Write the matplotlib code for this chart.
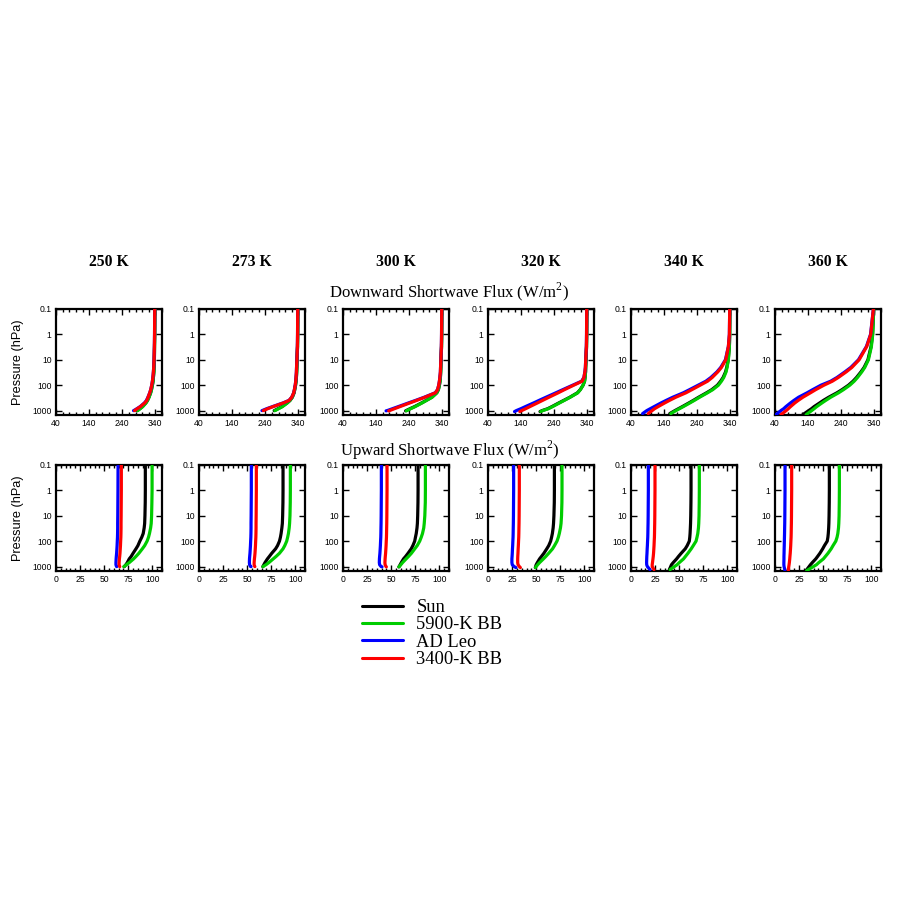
import matplotlib
matplotlib.use("Agg")
import matplotlib.pyplot as plt
from matplotlib.ticker import MultipleLocator, NullLocator, FixedLocator, FixedFormatter

plt.rcParams['mathtext.fontset'] = 'custom'
plt.rcParams['mathtext.rm'] = 'Liberation Serif'

TEMPS = ['250 K', '273 K', '300 K', '320 K', '340 K', '360 K']
# pressure levels (hPa); each profile has one extra value at the surface pressure PS
P_LEVELS = [0.1, 1, 3, 10, 20, 30, 50, 70, 100, 150, 200, 300, 400, 500, 700, 850, 1000]
PS = [1010, 1010, 1030, 1100, 1320, 1450]

SERIES = ['Sun', '5900-K BB', 'AD Leo', '3400-K BB']
COLORS = ['#000000', '#00cc00', '#0000ff', '#ff0000']

# Downward shortwave flux (W/m2)
DN_SUN = [
    [338.5, 338, 337.5, 337, 336, 335.5, 334, 333, 331, 328, 325.5, 320.5, 316, 311, 301, 293, 285, 284],
    [338.5, 338, 337.5, 336, 335.5, 335, 334, 333, 331.5, 329, 327, 321.5, 314.5, 306, 290.5, 278, 268, 267],
    [338.5, 338, 337.5, 336, 335.5, 335, 334, 333, 331, 328, 323, 308, 291, 277.5, 256, 242, 231, 229],
    [338.5, 338, 337.5, 336, 335, 334.5, 333, 331.5, 327, 318.5, 310, 287, 268.5, 254, 233, 220, 204, 197],
    [338.5, 338, 337, 333.5, 329, 325.5, 318, 310.5, 301, 284, 268, 244, 228, 215, 195, 183, 173, 157],
    [338, 334.5, 330, 320.5, 309, 299.5, 286, 275.5, 262, 242.5, 227, 202, 186, 175, 158, 150, 142, 124],
]
DN_BB5900 = [
    [338.5, 338, 337.5, 337, 336, 335.5, 334, 333, 331, 328.5, 326, 321, 316.5, 312, 302, 294, 287, 286],
    [338.5, 338, 337.5, 336, 335.5, 335, 334, 333, 331.5, 329, 327, 322, 315, 307, 292, 280, 270, 269],
    [338.5, 338, 337.5, 336, 335.5, 335, 334, 333, 331, 328, 323.5, 309, 292, 279, 258, 244, 233, 231],
    [338.5, 338, 337.5, 336, 335, 334.5, 333, 331.5, 327, 319, 311, 288, 270, 256, 235, 222, 206, 199],
    [338.5, 338, 337, 334, 330, 327, 320, 313, 304, 287, 271, 247, 231, 218, 198, 186, 176, 160],
    [338, 335, 331, 322, 311, 302, 289, 279, 266, 247, 232, 208, 193, 182, 166, 158, 151, 134],
]
DN_ADLEO = [
    [338, 337.5, 337, 336, 335, 334, 332.5, 331, 329, 326, 323, 317.5, 313, 307, 294, 284, 275, 274],
    [338, 337.5, 337, 335.5, 334.5, 334, 333, 332, 330.5, 328, 326, 320, 311.5, 294, 262, 244, 231, 230],
    [338, 337.5, 337, 335.5, 334.5, 334, 332.5, 331, 329, 325.5, 318.5, 285, 259, 238, 207, 189, 174, 170],
    [338, 337.5, 337, 335, 334, 332.5, 329.5, 322.5, 296, 266, 245, 215, 194, 178, 153, 139, 126, 120],
    [338, 337, 334, 325, 311, 299.5, 281, 266, 243, 217, 198, 166, 146, 131, 110, 98, 88, 75],
    [337, 328.5, 316, 292, 269, 251, 227, 208, 179, 154, 137, 111, 97, 87, 73, 66, 58, 43],
]
DN_BB3400 = [
    [338, 337.5, 337, 336, 335, 334, 332.5, 331, 329, 326, 323, 318, 314, 308, 295, 285, 278, 277],
    [338, 337.5, 337, 335.5, 334.5, 334, 333, 332, 330.5, 328, 326, 320, 312, 295, 264, 247, 235, 234],
    [338, 337.5, 337, 335.5, 334.5, 334, 332.5, 331, 329, 325.5, 319, 287, 262, 242, 212, 195, 181, 178],
    [338, 337.5, 337, 335, 334, 332.5, 329.5, 324, 299, 271, 252, 224, 204.5, 189.5, 166.5, 153.5, 142, 136],
    [338, 337, 334, 326, 313, 302, 285, 271, 249, 224, 206, 175, 156, 142, 122, 111, 104, 92],
    [337, 329, 317, 294, 272, 255, 231, 213, 188, 163, 147, 124, 110, 100, 87, 80, 74, 58],
]

# Upward shortwave flux (W/m2)
UP_SUN = [
    [92.7, 92.7, 92.6, 92.3, 92, 91.5, 90.5, 89, 87, 85, 83, 80, 78, 76, 74, 72.5, 71, 70.8],
    [87.2, 87.2, 87.1, 86.8, 86.5, 86, 85.2, 84.5, 83.5, 81.5, 79.5, 75.5, 73, 71, 68.5, 67.3, 66.4, 66.2],
    [77.9, 77.9, 77.8, 77.5, 77.2, 76.8, 76, 75.2, 74.4, 72.5, 70.8, 67.5, 65, 62.8, 60.5, 59.3, 58.3, 58],
    [68.9, 68.9, 68.8, 68.4, 68, 67.6, 66.8, 66, 65, 63, 61, 58, 55.5, 53.5, 51.2, 50, 49.4, 49.1],
    [62.3, 62.3, 62.2, 62.0, 61.8, 61.6, 61.3, 61.0, 60.5, 58.3, 56.3, 52.1, 49.3, 47.3, 43.8, 42.0, 41.2, 39.8],
    [56.4, 56.4, 56.3, 56.1, 55.9, 55.7, 55.3, 54.9, 54.2, 51.3, 49.5, 46.6, 44.2, 42.3, 38.7, 36.8, 35.4, 32.2],
]
UP_BB5900 = [
    [99.7, 99.7, 99.5, 99.2, 98.8, 98.2, 97, 96, 94.5, 92, 89.6, 86, 83, 80.5, 76, 73, 70.5, 70.3],
    [94.8, 94.8, 94.7, 94.4, 94, 93.6, 92.8, 92, 91, 89, 87.2, 83.5, 80, 77, 72.5, 69.5, 66.5, 66.3],
    [85.5, 85.5, 85.4, 84.9, 84.3, 83.8, 82.5, 81.2, 79.6, 77, 74.5, 71, 68, 65.5, 61.8, 60, 58.4, 58],
    [76.8, 76.8, 76.7, 76.3, 75.8, 75.2, 74, 73, 71.6, 69, 67, 63, 60, 57.5, 53.5, 51.5, 50, 49.2],
    [70.9, 70.9, 70.8, 70.6, 70.3, 70, 69.3, 68.5, 67.5, 64.6, 62.5, 59.1, 56.5, 54.5, 50.1, 47.8, 45.1, 40.5],
    [66.8, 66.8, 66.7, 66.5, 66.2, 65.9, 65.2, 64.4, 63.1, 60.2, 58.3, 55, 52.3, 50.2, 45.4, 43, 39.9, 32.9],
]
UP_ADLEO = [
    [64.4, 64.3, 64.2, 64.1, 64, 64, 63.9, 63.8, 63.6, 63.4, 63.2, 62.9, 62.6, 62.4, 62.2, 62.2, 62.8, 63],
    [54.3, 54.3, 54.2, 54.1, 54, 54, 53.9, 53.8, 53.6, 53.4, 53.2, 52.9, 52.6, 52.4, 52.3, 52.5, 53.5, 54],
    [39.8, 39.8, 39.7, 39.6, 39.5, 39.4, 39.3, 39.2, 39, 38.8, 38.6, 38.3, 38, 37.8, 37.7, 38, 39.5, 40.5],
    [26.6, 26.6, 26.5, 26.4, 26.3, 26.2, 26.1, 26, 25.8, 25.6, 25.4, 25.2, 25, 24.8, 24.8, 25.2, 27, 29],
    [18, 18, 17.9, 17.8, 17.7, 17.6, 17.5, 17.4, 17.2, 17, 16.8, 16.6, 16.4, 16.3, 16.2, 16.3, 17, 19.7],
    [10.4, 10.4, 10.3, 10.2, 10.1, 10, 9.9, 9.8, 9.7, 9.6, 9.5, 9.4, 9.3, 9.3, 9.2, 9.2, 9.4, 10.4],
]
UP_BB3400 = [
    [67.8, 67.8, 67.7, 67.6, 67.5, 67.5, 67.4, 67.3, 67.1, 66.9, 66.7, 66.4, 66.1, 65.8, 65.5, 65.5, 66, 66.2],
    [59.5, 59.5, 59.4, 59.3, 59.2, 59.2, 59.1, 59, 58.8, 58.6, 58.4, 58.1, 57.8, 57.5, 57.2, 57.2, 57.8, 58],
    [45.7, 45.7, 45.6, 45.5, 45.4, 45.3, 45.2, 45.1, 44.9, 44.7, 44.5, 44.2, 43.9, 43.7, 43.5, 43.7, 44.6, 45],
    [32.5, 32.5, 32.4, 32.3, 32.2, 32.1, 32, 31.9, 31.7, 31.5, 31.3, 31.1, 30.9, 30.8, 30.8, 31.2, 32.5, 33.6],
    [24.9, 24.9, 24.8, 24.7, 24.6, 24.5, 24.4, 24.3, 24.1, 23.9, 23.7, 23.4, 23.1, 22.8, 22.3, 22, 22, 23.9],
    [17.3, 17.3, 17.2, 17.1, 17, 16.9, 16.8, 16.7, 16.5, 16.3, 16.1, 15.8, 15.5, 15.3, 14.9, 14.6, 14.3, 13.8],
]

DN_XTICKS = [40, 140, 240, 340]
UP_XTICKS = [0, 25, 50, 75, 100]
Y_TICKS = [0.1, 1, 10, 100, 1000]
Y_LABELS = ['0.1', '1', '10', '100', '1000']

W = H = 899
fig = plt.figure(figsize=(W / 100, H / 100), dpi=100)

LEFTS = [56, 199, 343, 488, 631, 775]
AX_W = 106
ROWS = [(309, 415), (465, 571)]

SANS = 'Liberation Sans'
SERIF = 'Liberation Serif'


def px_axes(x0, y0, y1):
    return fig.add_axes([x0 / W, 1 - y1 / H, AX_W / W, (y1 - y0) / H])


def style(ax, xlim, xticks, xminor):
    ax.set_yscale('log')
    ax.set_ylim(1500, 0.1)
    ax.yaxis.set_major_locator(FixedLocator(Y_TICKS))
    ax.yaxis.set_major_formatter(FixedFormatter(Y_LABELS))
    ax.yaxis.set_minor_locator(NullLocator())
    ax.set_xlim(*xlim)
    ax.set_xticks(xticks)
    ax.xaxis.set_minor_locator(MultipleLocator(xminor))
    ax.tick_params(which='both', direction='in', top=True, right=True,
                   labelsize=6.2, pad=3.2, width=1.0)
    ax.tick_params(which='major', length=4)
    ax.tick_params(which='minor', length=2)
    for lab in ax.get_xticklabels() + ax.get_yticklabels():
        lab.set_fontfamily(SANS)
    for sp in ax.spines.values():
        sp.set_linewidth(1.6)


handles = []
for row, (y0, y1) in enumerate(ROWS):
    data = [DN_SUN, DN_BB5900, DN_ADLEO, DN_BB3400] if row == 0 else \
           [UP_SUN, UP_BB5900, UP_ADLEO, UP_BB3400]
    for i, x0 in enumerate(LEFTS):
        ax = px_axes(x0, y0, y1)
        p = P_LEVELS + [PS[i]]
        for s, (series, color) in enumerate(zip(data, COLORS)):
            ln, = ax.plot(series[i], p, color=color, lw=2.3,
                          solid_capstyle='round', label=SERIES[s], zorder=2 + s)
            if row == 0 and i == 0:
                handles.append(ln)
        if row == 0:
            style(ax, (40, 360), DN_XTICKS, 20)
            ax.text(0.5, 1 + 47 / 106, TEMPS[i], transform=ax.transAxes,
                    ha='center', va='center', fontsize=11.3, fontweight='bold',
                    family=SERIF)
        else:
            style(ax, (0, 110), UP_XTICKS, 5)
        if i == 0:
            ax.text(18 / W, 1 - ((y0 + y1) / 2) / H, 'Pressure (hPa)',
                    transform=fig.transFigure, rotation=90, ha='center',
                    va='center', fontsize=9.2, family=SANS)

fig.text(449 / W, 1 - 292 / H, r'Downward Shortwave Flux (W/m$^{\mathrm{2}}$)',
         ha='center', va='center', fontsize=12, family=SERIF)
fig.text(450 / W, 1 - 450 / H, r'Upward Shortwave Flux (W/m$^{\mathrm{2}}$)',
         ha='center', va='center', fontsize=12, family=SERIF)

leg = fig.legend(handles, SERIES, loc='upper left',
                 bbox_to_anchor=(362 / W, 1 - 599 / H), frameon=False,
                 borderpad=0, borderaxespad=0, handlelength=2.2,
                 handletextpad=0.75, labelspacing=0.02,
                 prop={'family': SERIF, 'size': 13.3})
for ln in leg.get_lines():
    ln.set_linewidth(2.2)

fig.savefig('out.png', dpi=100)
